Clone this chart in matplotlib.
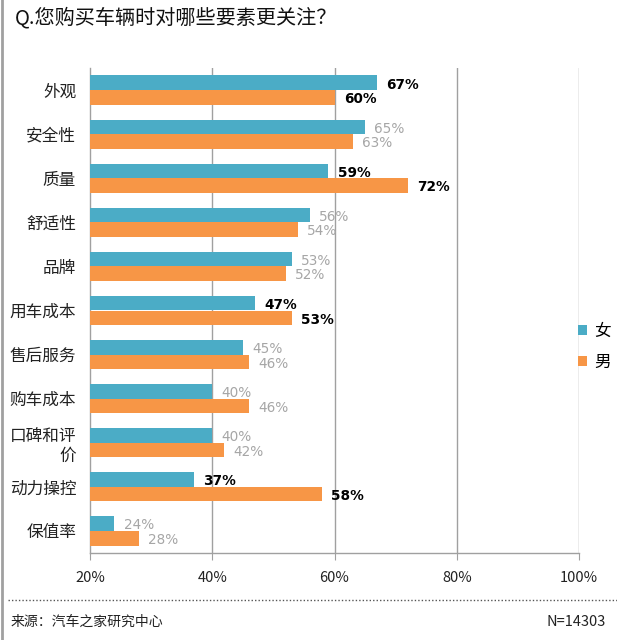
import matplotlib
matplotlib.use("Agg")
import matplotlib.pyplot as plt
from matplotlib.patches import Patch
from matplotlib.lines import Line2D

plt.rcParams['font.family'] = ['Noto Sans CJK SC', 'DejaVu Sans']

categories = ["外观", "安全性", "质量", "舒适性", "品牌", "用车成本", "售后服务",
              "购车成本", "口碑和评\n价", "动力操控", "保值率"]
female = [67, 65, 59, 56, 53, 47, 45, 40, 40, 37, 24]
male = [60, 63, 72, 54, 52, 53, 46, 46, 42, 58, 28]
highlight = [True, False, True, False, False, True, False, False, False, True, False]
xticks = [20, 40, 60, 80, 100]
xticklabels = ["20%", "40%", "60%", "80%", "100%"]
series_names = ["女", "男"]

c_f = "#4BACC6"
c_m = "#F79646"

fig = plt.figure(figsize=(6.17, 6.40), dpi=100)
ax = fig.add_axes([90/617, 1-553/640, (579-90)/617, (553-68)/640])

h = 0.33
ys = list(range(len(categories)))
ax.barh([y - h/2 for y in ys], [v - 20 for v in female], left=20, height=h, color=c_f, zorder=3)
ax.barh([y + h/2 for y in ys], [v - 20 for v in male], left=20, height=h, color=c_m, zorder=3)

for y, f, m, hl in zip(ys, female, male, highlight):
    kw = dict(fontsize=9.8, va='center', ha='left', family=['DejaVu Sans'],
              fontweight='bold' if hl else 'normal',
              color='black' if hl else '#A6A6A6', zorder=4)
    ax.text(f + 1.5, y - h/2 + 0.04, f"{f}%", **kw)
    ax.text(m + 1.5, y + h/2 + 0.04, f"{m}%", **kw)

ax.set_xlim(20, 100)
ax.set_ylim(len(categories) - 0.5, -0.5)
ax.set_xticks(xticks)
ax.set_xticklabels(xticklabels, fontsize=10.5, color='#222222')
ax.set_yticks(ys)
ax.set_yticklabels(categories, fontsize=12, color='#222222', linespacing=1.25)
ax.tick_params(axis='y', length=0, pad=10)
ax.tick_params(axis='x', length=5, color='#A0A0A0', pad=8, direction='out')
for xv in xticks[1:]:
    ax.axvline(xv, color='#A0A0A0', lw=1, zorder=1)
for s in ['top', 'right']:
    ax.spines[s].set_visible(False)
for s in ['left', 'bottom']:
    ax.spines[s].set_color('#A0A0A0')
    ax.spines[s].set_linewidth(1)

handles = [Patch(facecolor=c_f), Patch(facecolor=c_m)]
fig.legend(handles, series_names, loc='center left', bbox_to_anchor=(566/617, 1-347/640),
           frameon=False, fontsize=12, handlelength=0.55, handleheight=0.55,
           handletextpad=0.45, labelspacing=0.85, borderpad=0.2)

fig.text(15/617, 1-18/640, "Q.您购买车辆时对哪些要素更关注？", fontsize=14.5, va='center', ha='left', color='#111111')
fig.add_artist(Line2D([8/617, 1], [1-600/640, 1-600/640], transform=fig.transFigure,
                      color='#555555', lw=1, linestyle=(0, (1, 1.5))))
fig.text(11/617, 1-622/640, "来源：汽车之家研究中心", fontsize=10, va='center', ha='left', color='#222222')
fig.text(606/617, 1-622/640, "N=14303", fontsize=10.5, va='center', ha='right', color='#222222')
fig.add_artist(Line2D([1.5/617, 1.5/617], [0, 1], transform=fig.transFigure, color='#A0A0A0', lw=2))

fig.savefig("out.png", dpi=100)
